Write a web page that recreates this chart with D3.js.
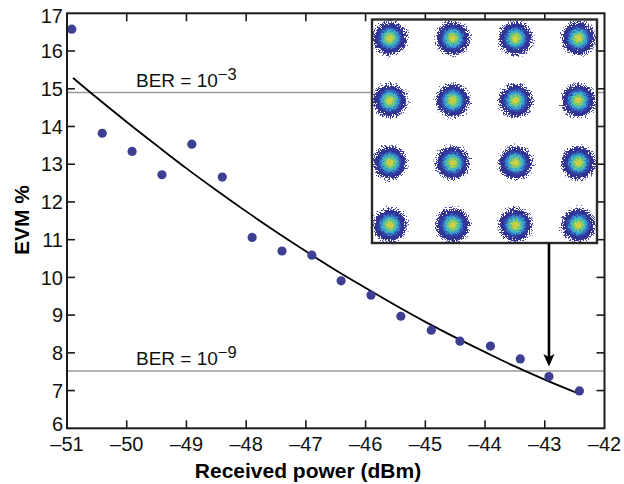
<!DOCTYPE html>
<html>
<head>
<meta charset="utf-8">
<script src="https://cdn.jsdelivr.net/npm/d3@7/dist/d3.min.js"></script>
<style>
  html, body { margin: 0; padding: 0; background: #fff; }
  svg { display: block; font-family: "Liberation Sans", Arial, Helvetica, sans-serif; }
</style>
</head>
<body>
<svg id="chart" width="624" height="484"></svg>
<script>
// Measured EVM versus received optical power
const powerDbm = [-50.92, -50.41, -49.91, -49.41, -48.91, -48.40, -47.90, -47.40, -46.90,
                  -46.41, -45.91, -45.41, -44.90, -44.42, -43.91, -43.41, -42.93, -42.42];
const evmPct   = [16.58, 13.82, 13.34, 12.72, 13.53, 12.66, 11.06, 10.70, 10.59,
                  9.91, 9.53, 8.97, 8.60, 8.31, 8.18, 7.84, 7.37, 6.99];

// Fitted trend curve
const fitPower = [-50.9, -50.5, -50, -49.5, -49, -48.5, -48, -47.5, -47, -46.5,
                  -46, -45.5, -45, -44.5, -44, -43.5, -43, -42.42];
const fitEvm   = [15.29, 14.76, 14.12, 13.50, 12.89, 12.31, 11.75, 11.21, 10.69, 10.19,
                  9.72, 9.26, 8.82, 8.41, 8.02, 7.64, 7.29, 6.91];

// BER thresholds (EVM %)
const berLevels = [
  { exp: "\u22123", evm: 14.9 },
  { exp: "\u22129", evm: 7.52 }
];

// Axis ticks
const xTicks = [-51, -50, -49, -48, -47, -46, -45, -44, -43, -42];
const yTicks = [6, 7, 8, 9, 10, 11, 12, 13, 14, 15, 16, 17];

// 16-QAM constellation levels (in-phase / quadrature)
const qamLevels = [-3, -1, 1, 3];
// Index of the measurement whose constellation is shown
const insetIndex = 16;

const svg = d3.select("#chart");
const plotL = 67, plotR = 604.5, plotT = 13.3, plotB = 428.3;

const x = d3.scaleLinear().domain([-51, -42]).range([plotL, plotR]);
const y = d3.scaleLinear().domain([6, 17]).range([plotB, plotT]);

const minus = s => String(s).replace("-", "\u2013");
const tickLen = 8;
const axisColor = "#1a1a1a";

// BER reference lines
svg.append("g").selectAll("line").data(berLevels).join("line")
  .attr("x1", plotL).attr("x2", plotR)
  .attr("y1", d => y(d.evm)).attr("y2", d => y(d.evm))
  .attr("stroke", "#9a9a9a").attr("stroke-width", 1.6);

const berText = svg.append("g").selectAll("text").data(berLevels).join("text")
  .attr("x", 136)
  .attr("y", d => y(d.evm) - 5.5)
  .attr("font-size", 19)
  .attr("fill", "#111");
berText.append("tspan").text("BER = 10");
berText.append("tspan").attr("dy", -7.5).attr("font-size", 16.5).text(d => d.exp);

// Fitted curve
const line = d3.line().x((d, i) => x(fitPower[i])).y(d => y(d)).curve(d3.curveMonotoneX);
svg.append("path")
  .attr("d", line(fitEvm))
  .attr("fill", "none").attr("stroke", "#000").attr("stroke-width", 1.8);

// Measured points
svg.append("g").selectAll("circle").data(evmPct).join("circle")
  .attr("cx", (d, i) => x(powerDbm[i]))
  .attr("cy", d => y(d))
  .attr("r", 4.6)
  .attr("fill", "#3c3f92");

// Frame and inward ticks on all sides
const axes = svg.append("g").attr("stroke", axisColor);
axes.append("rect")
  .attr("x", plotL).attr("y", plotT)
  .attr("width", plotR - plotL).attr("height", plotB - plotT)
  .attr("fill", "none").attr("stroke-width", 2);
xTicks.slice(1, -1).forEach(t => {
  axes.append("line").attr("x1", x(t)).attr("x2", x(t)).attr("y1", plotB).attr("y2", plotB - tickLen).attr("stroke-width", 1.6);
  axes.append("line").attr("x1", x(t)).attr("x2", x(t)).attr("y1", plotT).attr("y2", plotT + tickLen).attr("stroke-width", 1.6);
});
yTicks.slice(1, -1).forEach(t => {
  axes.append("line").attr("y1", y(t)).attr("y2", y(t)).attr("x1", plotL).attr("x2", plotL + tickLen).attr("stroke-width", 1.6);
  axes.append("line").attr("y1", y(t)).attr("y2", y(t)).attr("x1", plotR).attr("x2", plotR - tickLen).attr("stroke-width", 1.6);
});

// Tick labels (the end labels are nudged inward, clear of the corner)
svg.append("g").selectAll("text").data(xTicks).join("text")
  .attr("x", d => x(d)).attr("y", 451)
  .attr("text-anchor", "middle").attr("font-size", 20).attr("fill", "#111")
  .text(d => minus(d));
const yNudge = v => v === yTicks[0] ? -5 : (v === yTicks[yTicks.length - 1] ? 2 : 0);
svg.append("g").selectAll("text").data(yTicks).join("text")
  .attr("x", 63).attr("y", d => y(d) + yNudge(d)).attr("dy", "0.36em")
  .attr("text-anchor", "end").attr("font-size", 20).attr("fill", "#111")
  .text(d => d);

// Axis titles
svg.append("text")
  .attr("x", 308).attr("y", 478)
  .attr("text-anchor", "middle").attr("font-size", 21).attr("font-weight", "bold")
  .text("Received power (dBm)");
svg.append("text")
  .attr("transform", "translate(29,220) rotate(-90)")
  .attr("text-anchor", "middle").attr("font-size", 21).attr("font-weight", "bold")
  .text("EVM %");

// Constellation inset
const inset = { x0: 372, x1: 597, y0: 19.5, y1: 243 };
const ix = d3.scaleLinear().domain([-3, 3]).range([390, 578.3]);
const iy = d3.scaleLinear().domain([-3, 3]).range([225, 38.3]);

const defs = svg.append("defs");
const grad = defs.append("radialGradient").attr("id", "cloud");
[
  [0.00, "#e89a2c", 1], [0.07, "#dcd640", 1], [0.18, "#a6cf52", 1],
  [0.28, "#5cc08e", 1], [0.37, "#3cb0d0", 1], [0.46, "#3482c8", 1],
  [0.55, "#3248aa", 1], [0.66, "#2e2e90", 1], [0.82, "#3a3a9c", 0.45],
  [1.00, "#5050b0", 0]
].forEach(([o, c, a]) => grad.append("stop").attr("offset", o).attr("stop-color", c).attr("stop-opacity", a));

// Grainy scatter texture: jitter pixels, then thin out the faint rim into sparse dots
const grain = defs.append("filter").attr("id", "grain")
  .attr("x", "-10%").attr("y", "-10%").attr("width", "120%").attr("height", "120%");
grain.append("feTurbulence").attr("type", "fractalNoise").attr("baseFrequency", 0.6)
  .attr("numOctaves", 2).attr("seed", 11).attr("result", "jitter");
grain.append("feDisplacementMap").attr("in", "SourceGraphic").attr("in2", "jitter")
  .attr("scale", 7).attr("xChannelSelector", "R").attr("yChannelSelector", "G").attr("result", "disp");
grain.append("feTurbulence").attr("type", "fractalNoise").attr("baseFrequency", 0.95)
  .attr("numOctaves", 1).attr("seed", 3).attr("result", "noise");
grain.append("feColorMatrix").attr("in", "noise").attr("type", "matrix")
  .attr("values", "0 0 0 0 0  0 0 0 0 0  0 0 0 0 0  2.2 0 0 0 -0.6").attr("result", "nA");
grain.append("feColorMatrix").attr("in", "disp").attr("type", "matrix")
  .attr("values", "0 0 0 0 0  0 0 0 0 0  0 0 0 0 0  0 0 0 1 0").attr("result", "dA");
grain.append("feComposite").attr("in", "dA").attr("in2", "nA").attr("operator", "arithmetic")
  .attr("k1", 0).attr("k2", 1).attr("k3", 1).attr("k4", -0.4).attr("result", "m0");
grain.append("feComponentTransfer").attr("in", "m0").attr("result", "mask")
  .append("feFuncA").attr("type", "discrete").attr("tableValues", "0 1");
grain.append("feComponentTransfer").attr("in", "disp").attr("result", "solid")
  .append("feFuncA").attr("type", "linear").attr("slope", 4);
grain.append("feComposite").attr("in", "solid").attr("in2", "mask").attr("operator", "in");

const ig = svg.append("g");
ig.append("rect")
  .attr("x", inset.x0).attr("y", inset.y0)
  .attr("width", inset.x1 - inset.x0).attr("height", inset.y1 - inset.y0)
  .attr("fill", "#fff");
const symbols = qamLevels.flatMap(i => qamLevels.map(q => ({ i, q })));
ig.append("g").attr("filter", "url(#grain)")
  .selectAll("circle").data(symbols).join("circle")
  .attr("cx", d => ix(d.i)).attr("cy", d => iy(d.q))
  .attr("r", 19.5).attr("fill", "url(#cloud)");
ig.append("rect")
  .attr("x", inset.x0).attr("y", inset.y0)
  .attr("width", inset.x1 - inset.x0).attr("height", inset.y1 - inset.y0)
  .attr("fill", "none").attr("stroke", "#2a2a2a").attr("stroke-width", 2.4);

// Arrow from the inset to the measurement it shows
const ax = x(powerDbm[insetIndex]);
const tipY = y(evmPct[insetIndex]) - 10;
svg.append("line")
  .attr("x1", ax).attr("x2", ax).attr("y1", inset.y1).attr("y2", tipY - 8)
  .attr("stroke", "#000").attr("stroke-width", 2.6);
svg.append("path")
  .attr("d", `M${ax},${tipY} L${ax - 5.6},${tipY - 12.5} L${ax},${tipY - 9.5} L${ax + 5.6},${tipY - 12.5} Z`)
  .attr("fill", "#000");
</script>
</body>
</html>
